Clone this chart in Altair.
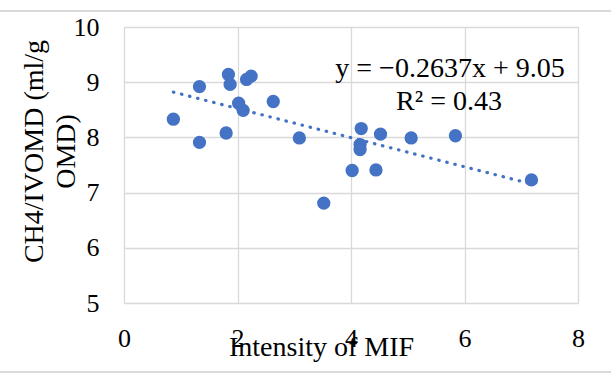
import altair as alt
import pandas as pd

# Data
mif_intensity = [0.87, 1.33, 1.33, 1.80, 1.84, 1.87, 2.02, 2.10, 2.16, 2.24, 2.63,
                 3.09, 3.52, 4.18, 4.16, 4.16, 4.02, 4.44, 4.52, 5.06, 5.84, 7.18]
ch4_ivomd = [8.33, 8.92, 7.91, 8.08, 9.14, 8.96, 8.62, 8.49, 9.05, 9.11, 8.65,
             7.99, 6.81, 8.16, 7.87, 7.78, 7.40, 7.41, 8.06, 7.99, 8.03, 7.23]
trend_slope = -0.2637
trend_intercept = 9.05
equation_lines = ["y = \u22120.2637x + 9.05", "R\u00b2 = 0.43"]
x_ticks = [0, 2, 4, 6, 8]
y_ticks = [5, 6, 7, 8, 9, 10]

df = pd.DataFrame({"x": mif_intensity, "y": ch4_ivomd})

BLUE = "#4472C4"
GRID = "#d9d9d9"
FONT = "Liberation Serif"

xscale = alt.Scale(domain=[0, 8], nice=False, zero=False)
yscale = alt.Scale(domain=[5, 10], nice=False, zero=False)

x_enc = alt.X("x:Q", scale=xscale, axis=alt.Axis(
    values=x_ticks, format="d", title="Intensity of MIF", grid=True, gridColor=GRID,
    gridWidth=1.3, domain=False, ticks=False, tickSize=0, labelPadding=22,
    labelFlush=False, labelFontSize=26, labelFont=FONT, labelColor="black",
    titleFont=FONT, titleFontSize=28, titleFontWeight="normal", titleColor="black",
    titleX=197, titleY=52, titleAlign="center", titleBaseline="alphabetic"))
y_enc = alt.Y("y:Q", scale=yscale, axis=alt.Axis(
    values=y_ticks, format="d", title=["CH4/IVOMD (ml/g", "OMD)"], grid=True,
    gridColor=GRID, gridWidth=1.3, domain=False, ticks=False, tickSize=0,
    labelPadding=25, labelFlush=False, labelFontSize=26, labelFont=FONT,
    labelColor="black", titleFont=FONT, titleFontSize=28, titleFontWeight="normal",
    titleColor="black", titleAngle=-90, titleX=-90, titleY=124, titleAlign="center",
    titleBaseline="middle", titleLineHeight=32))

points = alt.Chart(df).mark_circle(size=177, color=BLUE, opacity=1).encode(x=x_enc, y=y_enc)

trend = alt.Chart(df).transform_calculate(
    y=f"{trend_slope} * datum.x + {trend_intercept}"
).mark_line(color=BLUE, strokeWidth=3.2, strokeCap="round", strokeDash=[0.5, 7.8]).encode(
    x=x_enc, y=y_enc, order="x:Q")

eq1 = alt.Chart(pd.DataFrame({"t": [equation_lines[0]]})).mark_text(
    font=FONT, fontSize=28, color="black", align="center", baseline="alphabetic"
).encode(x=alt.value(326), y=alt.value(50), text="t:N")
eq2 = alt.Chart(pd.DataFrame({"t": [equation_lines[1]]})).mark_text(
    font=FONT, fontSize=28, color="black", align="center", baseline="alphabetic"
).encode(x=alt.value(325), y=alt.value(83), text="t:N")

frame = alt.Chart(pd.DataFrame({"yy": [-16, 345]})).mark_rule(
    color=GRID, strokeWidth=2).encode(
    x=alt.value(-130), x2=alt.value(500), y=alt.Y("yy:Q", scale=None))

chart = alt.layer(frame, points, trend, eq1, eq2).properties(
    width=454, height=276,
    autosize=alt.AutoSizeParams(type="none"),
    padding={"left": 124, "top": 27, "right": 33, "bottom": 71},
).configure_view(stroke=GRID, strokeWidth=1.5).configure(background="white")

chart.save("out.html", embed_options={"renderer": "svg", "actions": False})
